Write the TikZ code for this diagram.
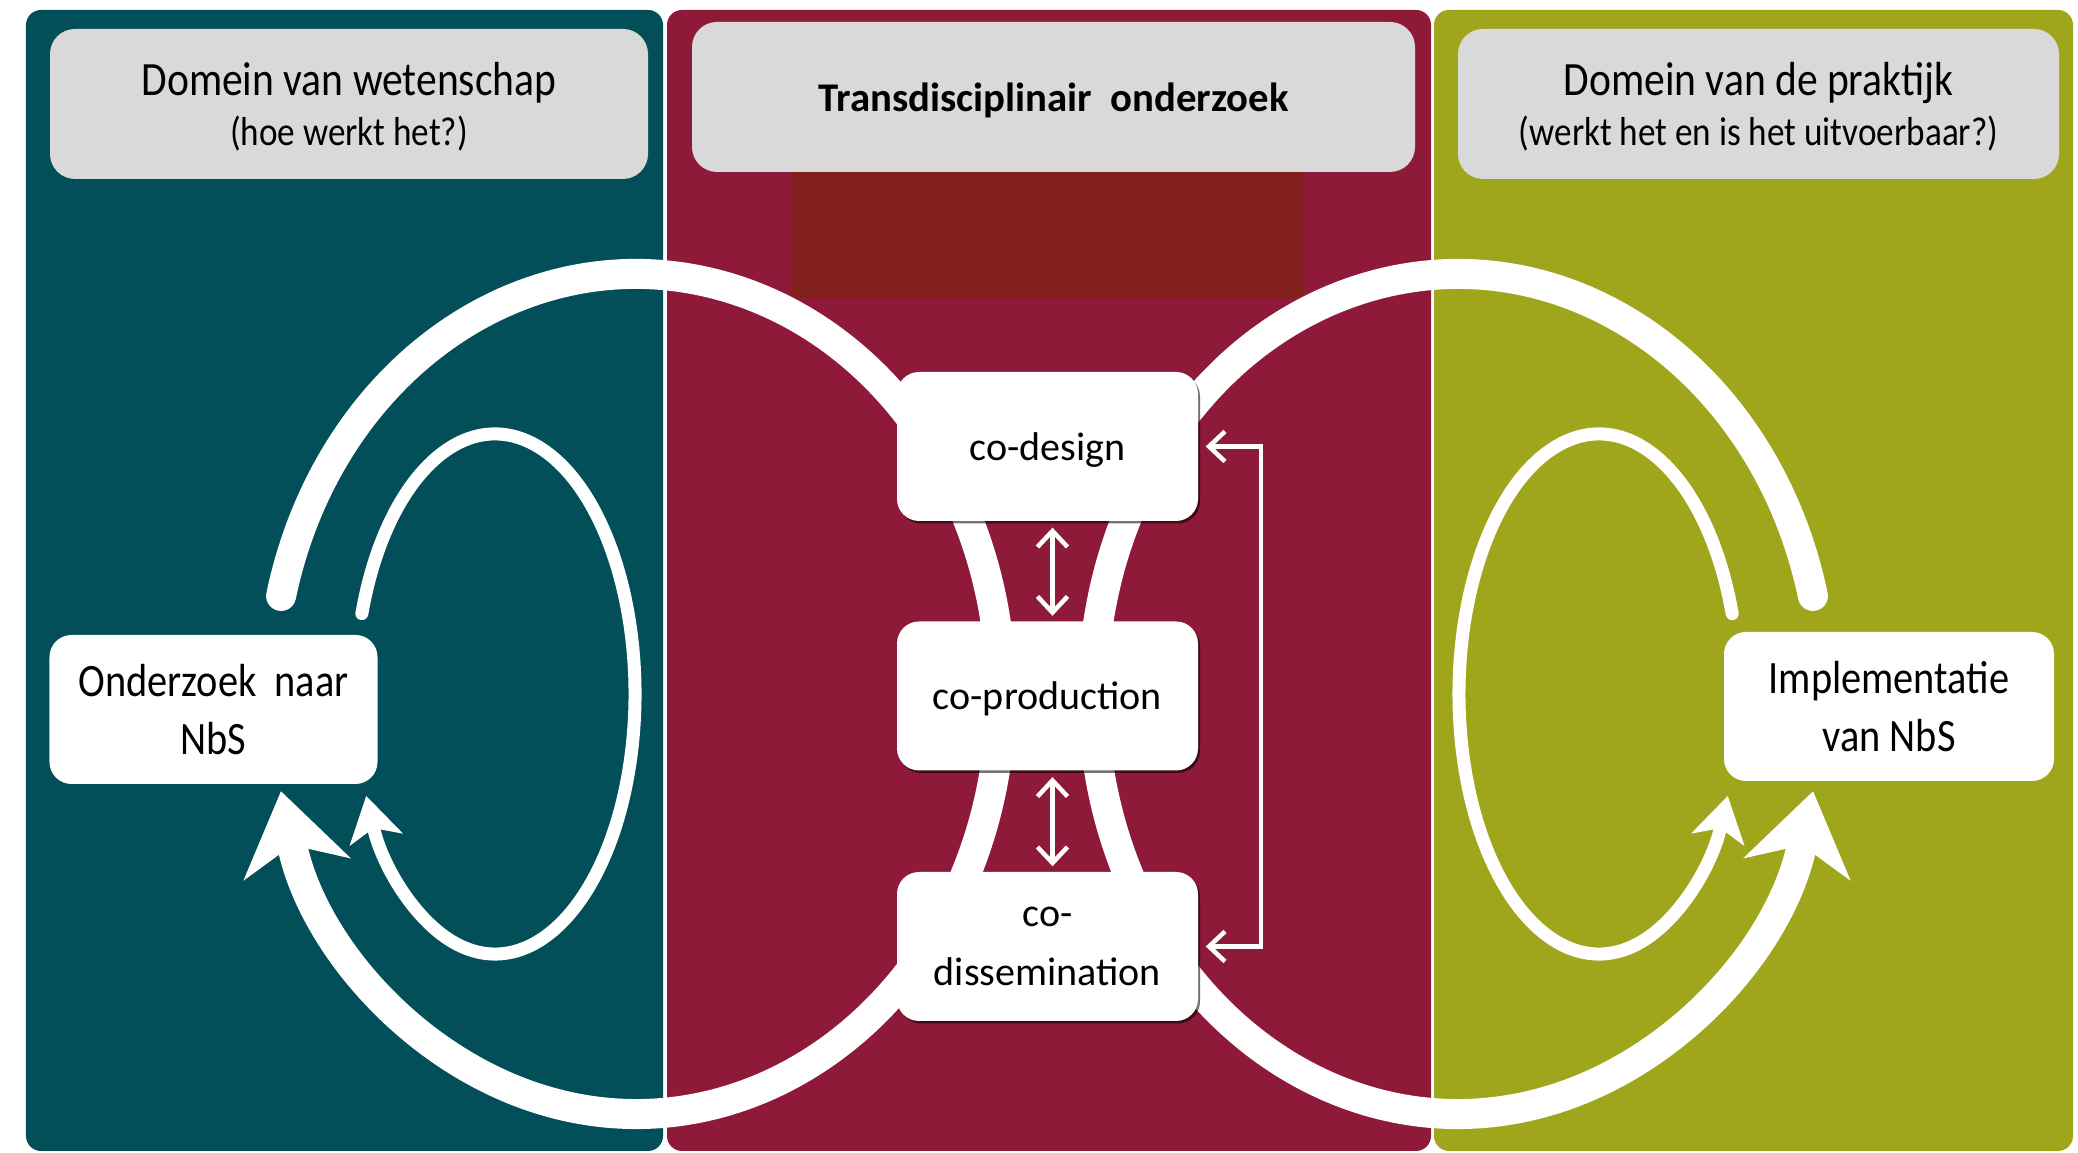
\documentclass[tikz,border=0pt]{standalone}
\usepackage{fontspec}
\setmainfont{Carlito}
\newfontfamily\narrowfont[FakeStretch=0.87]{Carlito}
\usetikzlibrary{arrows.meta,shadows}
\definecolor{sciteal}{RGB}{2,79,89}
\definecolor{tdcrimson}{RGB}{142,25,57}
\definecolor{pracolive}{RGB}{160,166,27}
\definecolor{tdbrick}{RGB}{130,33,27}
\definecolor{hdrgray}{RGB}{217,217,217}

\begin{document}
\begin{tikzpicture}
[panel/.style={rounded corners=0.15cm},
 hdr/.style={fill=hdrgray, rounded corners=0.25cm, minimum height=1.5cm, align=center, inner sep=0pt, text depth=0pt},
 sidebox/.style={fill=white, rounded corners=0.22cm, minimum width=3.28cm, minimum height=1.49cm,
   align=center, inner sep=0pt, font=\narrowfont\fontsize{13.2}{16.5}\selectfont},
 cobox/.style={fill=white, rounded corners=0.22cm, minimum width=3.01cm, minimum height=1.49cm,
   align=center, inner sep=0pt, text depth=-0.1em, font=\fontsize{11.4}{16.8}\selectfont,
   drop shadow={shadow xshift=0.02cm, shadow yshift=-0.025cm, opacity=0.55, fill=black}},
 bigloop/.style={white, line width=0.3cm, line cap=round,
   -{Stealth[length=0.8cm, width=1.1cm, inset=0.25cm, line width=0pt]}},
 smallloop/.style={white, line width=0.13cm, line cap=round,
   -{Stealth[length=0.45cm, width=0.55cm, inset=0.12cm, line width=0pt]}},
 link/.style={white, line width=0.045cm,
   {Straight Barb[length=0.16cm, width=0.3cm]}-{Straight Barb[length=0.16cm, width=0.3cm]}}]
\useasboundingbox (0,0) rectangle (20.78,11.53);
\fill[white] (0,0) rectangle (20.78,11.53);

% the three domains
\fill[panel, sciteal] (0.26,0.02) rectangle (6.63,11.43);
\fill[panel, tdcrimson] (6.67,0.02) rectangle (14.31,11.43);
\fill[panel, pracolive] (14.34,0.02) rectangle (20.73,11.43);
\fill[tdbrick] (7.92,8.55) rectangle (13.04,9.81);

\node[hdr, minimum width=5.98cm, font=\narrowfont\fontsize{13.6}{14.2}\selectfont] (sciHead) at (3.49,10.49)
  {Domein van wetenschap\\ \fontsize{11.5}{14.2}\selectfont (hoe werkt het?)};
\node[hdr, minimum width=7.23cm, font=\bfseries\fontsize{11.6}{14}\selectfont] (tdHead) at (10.535,10.56)
  {Transdisciplinair\ \ onderzoek};
\node[hdr, minimum width=6.01cm, font=\narrowfont\fontsize{13.6}{14.2}\selectfont] (pracHead) at (17.585,10.49)
  {Domein van de praktijk\\ \fontsize{11.5}{14.2}\selectfont (werkt het en is het uitvoerbaar?)};

% loops
\coordinate (sciC) at (6.36,4.59);
\coordinate (pracC) at (14.58,4.59);
\coordinate (sciIn) at (4.95,4.59);
\coordinate (pracIn) at (15.99,4.59);
\draw[bigloop] ([shift={(166.5:3.65 and 4.2)}]sciC) arc[start angle=166.5, end angle=-166.6, x radius=3.65, y radius=4.2];
\draw[bigloop] ([shift={(13.5:3.65 and 4.2)}]pracC) arc[start angle=13.5, end angle=346.6, x radius=3.65, y radius=4.2];
\draw[smallloop] ([shift={(162:1.4 and 2.6)}]sciIn) arc[start angle=162, end angle=-156.9, x radius=1.4, y radius=2.6];
\draw[smallloop] ([shift={(18:1.4 and 2.6)}]pracIn) arc[start angle=18, end angle=336.9, x radius=1.4, y radius=2.6];

\node[sidebox] (sciBox) at (2.135,4.435) {Onderzoek\ \ naar\\NbS};
\node[sidebox, minimum width=3.30cm] (pracBox) at (18.89,4.465) {Implementatie\\van NbS};
\node[cobox] (design) at (10.475,7.065) {co-design};
\node[cobox] (production) at (10.475,4.57) {co-production};
\node[cobox] (dissem) at (10.475,2.065) {co-\\dissemination};

\draw[link] ([xshift=0.05cm, yshift=-0.06cm]design.south) -- ([xshift=0.05cm, yshift=0.05cm]production.north);
\draw[link] ([xshift=0.05cm, yshift=-0.06cm]production.south) -- ([xshift=0.05cm, yshift=0.05cm]dissem.north);
\coordinate (loopback) at (12.61,4.57);
\draw[link] ([xshift=0.07cm]design.east) -| (loopback) |- ([xshift=0.07cm]dissem.east);
\end{tikzpicture}
\end{document}
